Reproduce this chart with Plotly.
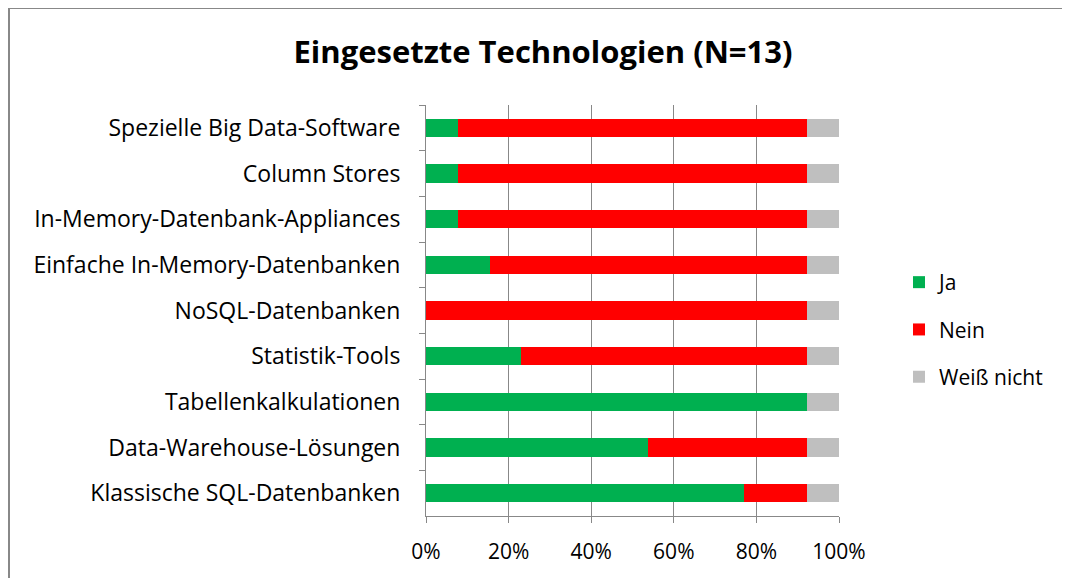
import plotly.graph_objects as go

categories = [
    "Spezielle Big Data-Software",
    "Column Stores",
    "In-Memory-Datenbank-Appliances",
    "Einfache In-Memory-Datenbanken",
    "NoSQL-Datenbanken",
    "Statistik-Tools",
    "Tabellenkalkulationen",
    "Data-Warehouse-Lösungen",
    "Klassische SQL-Datenbanken",
]
ja = [7.7, 7.7, 7.7, 15.4, 0.0, 23.1, 92.3, 53.8, 76.9]
nein = [84.6, 84.6, 84.6, 76.9, 92.3, 69.2, 0.0, 38.5, 15.4]
weiss_nicht = [7.7, 7.7, 7.7, 7.7, 7.7, 7.7, 7.7, 7.7, 7.7]
x_ticks = [0, 20, 40, 60, 80, 100]

FONT = "Open Sans"
# page body adds an 8px offset, so work in reference pixels minus 8
OFF = 8
W, H = 1070 - OFF, 578 - OFF
L, R, T, B = 426 - OFF, 839 - OFF, 105 - OFF, 516 - OFF

fig = go.Figure()
series = [("Ja", ja, "#00B050"), ("Nein", nein, "#FF0000"), ("Weiß nicht", weiss_nicht, "#BFBFBF")]
for i, (name, vals, col) in enumerate(series):
    fig.add_trace(go.Bar(
        y=categories, x=vals, name=name, orientation="h",
        marker=dict(color=col, line=dict(width=0)),
        legendgroup=str(i),
        hoverinfo="x+y+name",
    ))


def px_x(p):
    return (p - OFF - L) / (R - L)


def px_y(p):
    return (B - (p - OFF)) / (B - T)


# chart frame: only top and left edges are visible
frame = dict(color="#888888", width=2)
fig.add_shape(type="line", xref="paper", yref="paper",
              x0=px_x(9), x1=px_x(1090), y0=px_y(8), y1=px_y(8), line=frame, layer="below")
fig.add_shape(type="line", xref="paper", yref="paper",
              x0=px_x(9), x1=px_x(9), y0=px_y(8), y1=px_y(600), line=frame, layer="below")

fig.update_layout(
    width=W, height=H,
    margin=dict(l=L, r=W - R, t=T, b=H - B),
    barmode="stack", bargap=0.6,
    plot_bgcolor="white", paper_bgcolor="white",
    font=dict(family=FONT, size=23, color="#000000"),
    title=dict(text="<b>Eingesetzte Technologien (N=13)</b>", x=(543 - OFF) / W,
               xref="container", xanchor="center", y=1 - (52 - OFF) / H, yanchor="middle",
               font=dict(size=31, family=FONT)),
    legend=dict(x=px_x(899), y=px_y(262), xanchor="left", yanchor="top",
                font=dict(size=21), tracegroupgap=17, itemwidth=30,
                bgcolor="rgba(0,0,0,0)"),
    showlegend=True,
)
fig.update_xaxes(
    range=[0, 100], tickvals=x_ticks, ticktext=[f"{v}%" for v in x_ticks],
    tickfont=dict(size=21),
    showgrid=True, gridcolor="#888888", gridwidth=1,
    showline=True, linecolor="#888888", linewidth=1,
    ticks="outside", ticklen=6, tickcolor="#888888", ticklabelstandoff=11,
    zeroline=False, fixedrange=True,
)
fig.update_yaxes(
    autorange="reversed", showline=True, linecolor="#888888", linewidth=1,
    ticks="outside", ticklen=6, tickcolor="#888888", tickson="boundaries",
    ticklabelstandoff=20, showgrid=False, fixedrange=True,
)

fig.write_html("out.html")
